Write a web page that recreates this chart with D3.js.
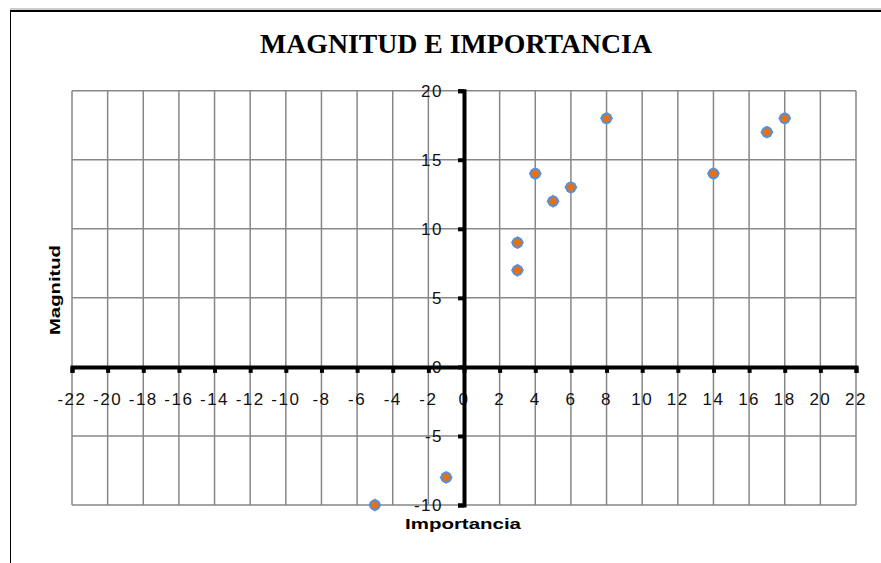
<!DOCTYPE html>
<html>
<head>
<meta charset="utf-8">
<script src="https://cdn.jsdelivr.net/npm/d3@7"></script>
<style>
  body { margin: 0; background: #fff; }
  svg { display: block; }
  .tick-label { font-family: "Liberation Sans", Arial, sans-serif; font-size: 17px; fill: #111; letter-spacing: 1.5px; }
</style>
</head>
<body>
<div id="chart"></div>
<script>
// data
const importancia = [3, 3, 4, 5, 6, 8, 14, 17, 18, -1, -5];
const magnitud    = [9, 7, 14, 12, 13, 18, 14, 17, 18, -8, -10];
const xTicks = d3.range(-22, 23, 2);
const yTicks = d3.range(-10, 21, 5);

const W = 881, H = 563;
const svg = d3.select("#chart").append("svg")
    .attr("width", W)
    .attr("height", H);

// chart frame (cut off at right / bottom)
svg.append("line").attr("x1", 10).attr("x2", W).attr("y1", 9).attr("y2", 9)
    .attr("stroke", "#999").attr("stroke-width", 1);
svg.append("line").attr("x1", 10).attr("x2", W).attr("y1", 11).attr("y2", 11)
    .attr("stroke", "#000").attr("stroke-width", 2);
svg.append("line").attr("x1", 10.5).attr("x2", 10.5).attr("y1", 10).attr("y2", H)
    .attr("stroke", "#000").attr("stroke-width", 1);

// scales
const x = d3.scaleLinear().domain([-22, 22]).range([72, 856]);
const y = d3.scaleLinear().domain([-10, 20]).range([505, 90.7]);

// title
svg.append("text")
    .attr("x", 260).attr("y", 53)
    .attr("textLength", 392).attr("lengthAdjust", "spacingAndGlyphs")
    .style("font-family", "'Liberation Serif', 'Times New Roman', serif")
    .style("font-weight", "bold")
    .style("font-size", "28px")
    .text("MAGNITUD E IMPORTANCIA");

// grid
const grid = svg.append("g").attr("class", "grid");
grid.selectAll(".vgrid").data(xTicks).enter().append("line")
    .attr("x1", d => x(d)).attr("x2", d => x(d))
    .attr("y1", y(20)).attr("y2", y(-10))
    .attr("stroke", "#878787").attr("stroke-width", 1.5);
grid.selectAll(".hgrid").data(yTicks).enter().append("line")
    .attr("x1", x(-22)).attr("x2", x(22))
    .attr("y1", d => y(d)).attr("y2", d => y(d))
    .attr("stroke", "#878787").attr("stroke-width", 1.5);

// tick labels (drawn under the axis lines)
svg.selectAll(".xlab").data(xTicks).enter().append("text")
    .attr("class", "tick-label")
    .attr("x", d => x(d)).attr("y", 405)
    .attr("text-anchor", "middle")
    .text(d => d);
svg.selectAll(".ylab").data(yTicks).enter().append("text")
    .attr("class", "tick-label")
    .attr("x", 443).attr("y", d => y(d) + 6)
    .attr("text-anchor", "end")
    .text(d => d);

// axes
const xAxis = d3.axisBottom(x).tickValues(xTicks).tickSize(6).tickFormat("");
const yAxis = d3.axisLeft(y).tickValues(yTicks).tickSize(6).tickFormat("");

const gx = svg.append("g").attr("transform", `translate(0,${y(0)})`).call(xAxis);
const gy = svg.append("g").attr("transform", `translate(${x(0)},0)`).call(yAxis);
[gx, gy].forEach(g => {
    g.select(".domain").attr("stroke", "#000").attr("stroke-width", 4);
    g.selectAll(".tick line").attr("stroke", "#000").attr("stroke-width", 4);
});

// axis titles
svg.append("text")
    .attr("transform", "translate(60,290) rotate(-90)")
    .attr("text-anchor", "middle")
    .attr("textLength", 90).attr("lengthAdjust", "spacingAndGlyphs")
    .style("font-family", "'Liberation Sans', Arial, sans-serif")
    .style("font-weight", "bold").style("font-size", "15px")
    .text("Magnitud");
svg.append("text")
    .attr("x", 405).attr("y", 529)
    .attr("textLength", 116).attr("lengthAdjust", "spacingAndGlyphs")
    .style("font-family", "'Liberation Sans', Arial, sans-serif")
    .style("font-weight", "bold").style("font-size", "15px")
    .text("Importancia");

// points
const pts = svg.append("g").selectAll("g")
    .data(importancia.map((d, i) => ({x: d, y: magnitud[i]})))
    .enter().append("g")
    .attr("transform", d => `translate(${x(d.x)},${y(d.y)})`);
pts.append("path")
    .attr("d", d3.symbol().type(d3.symbolSquare).size(90))
    .attr("transform", "rotate(45)")
    .attr("fill", "#6f9fd8");
pts.append("circle").attr("r", 5.8).attr("fill", "#5b8fd0");
pts.append("circle").attr("r", 3.6).attr("fill", "#e8700f");
</script>
</body>
</html>
